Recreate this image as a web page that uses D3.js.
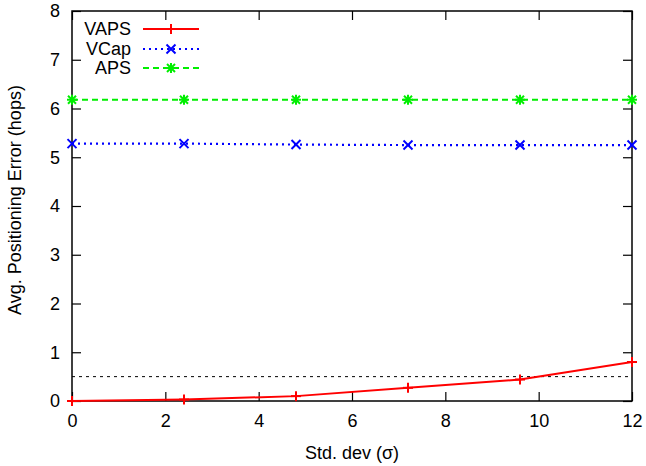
<!DOCTYPE html>
<html><head><meta charset="utf-8">
<script src="https://cdn.jsdelivr.net/npm/d3@7"></script>
<style>body{margin:0;background:#fff}text{font-family:"Liberation Sans",Arial,sans-serif}</style>
</head><body>
<svg id="c" width="646" height="466"></svg>
<script>
const xValues = [0, 2.4, 4.8, 7.2, 9.6, 12];
const vaps = [0.0, 0.03, 0.1, 0.27, 0.44, 0.8];
const vcap = [5.28, 5.28, 5.26, 5.25, 5.25, 5.25];
const aps = [6.18, 6.18, 6.18, 6.18, 6.18, 6.18];
const refLine = 0.5;
const xTicks = [0, 2, 4, 6, 8, 10, 12];
const yTicks = [0, 1, 2, 3, 4, 5, 6, 7, 8];
const seriesNames = ["VAPS", "VCap", "APS"];

const FS = 18;
const svg = d3.select("#c");
const L = 72, R = 632, T = 11, B = 401;
const x = d3.scaleLinear().domain([0, 12]).range([L, R]);
const y = d3.scaleLinear().domain([0, 8]).range([B, T]);

// axes with inward ticks
const tl = 9;
svg.append("g").attr("transform", `translate(0,${B})`)
  .call(d3.axisBottom(x).tickValues(xTicks).tickSizeInner(-tl).tickSizeOuter(0).tickPadding(13).tickFormat(d3.format("d")));
svg.append("g").attr("transform", `translate(0,${T})`)
  .call(d3.axisTop(x).tickValues(xTicks).tickSizeInner(-tl).tickSizeOuter(0).tickFormat(""));
svg.append("g").attr("transform", `translate(${L},0)`)
  .call(d3.axisLeft(y).tickValues(yTicks).tickSizeInner(-tl).tickSizeOuter(0).tickPadding(12).tickFormat(d3.format("d")));
svg.append("g").attr("transform", `translate(${R},0)`)
  .call(d3.axisRight(y).tickValues(yTicks).tickSizeInner(-tl).tickSizeOuter(0).tickFormat(""));
svg.selectAll(".domain").remove();
svg.selectAll(".tick line").attr("stroke", "#000").attr("stroke-width", 1.2);
svg.selectAll(".tick text").attr("font-size", FS).attr("fill", "#000").attr("font-family", "Liberation Sans, Arial, sans-serif");
svg.append("rect").attr("x", L).attr("y", T).attr("width", R - L).attr("height", B - T)
  .attr("fill", "none").attr("stroke", "#000").attr("stroke-width", 1.5);

// reference dashed line
svg.append("line").attr("x1", x(0)).attr("x2", x(12)).attr("y1", y(refLine)).attr("y2", y(refLine))
  .attr("stroke", "#000").attr("stroke-width", 1).attr("stroke-dasharray", "3,4");

const styles = [
  {data: vaps, color: "#ff0000", dash: null, width: 2, marker: "plus"},
  {data: vcap, color: "#0000ff", dash: "2,4", width: 2.2, marker: "cross"},
  {data: aps, color: "#00ee00", dash: "6,4", width: 2, marker: "star"}
];
function marker(g, cx, cy, type, color) {
  const s = 5;
  const p = [];
  if (type === "plus" || type === "star") { p.push([cx - s, cy, cx + s, cy], [cx, cy - s, cx, cy + s]); }
  if (type === "cross" || type === "star") { const k = type === "star" ? 4 : 4.5; p.push([cx - k, cy - k, cx + k, cy + k], [cx - k, cy + k, cx + k, cy - k]); }
  p.forEach(a => g.append("line").attr("x1", a[0]).attr("y1", a[1]).attr("x2", a[2]).attr("y2", a[3])
    .attr("stroke", color).attr("stroke-width", 2));
}
const line = d3.line().x((d, i) => x(xValues[i])).y(d => y(d));
styles.forEach(s => {
  svg.append("path").datum(s.data).attr("d", line).attr("fill", "none")
    .attr("stroke", s.color).attr("stroke-width", s.width).attr("stroke-dasharray", s.dash);
  const g = svg.append("g");
  s.data.forEach((v, i) => marker(g, x(xValues[i]), y(v), s.marker, s.color));
});

// legend
const ly = [29, 49, 68];
seriesNames.forEach((n, i) => {
  const s = styles[i];
  svg.append("text").attr("x", 131).attr("y", ly[i]).attr("dy", "0.35em").attr("text-anchor", "end")
    .attr("font-size", FS).text(n);
  svg.append("line").attr("x1", 143).attr("x2", 199).attr("y1", ly[i]).attr("y2", ly[i])
    .attr("stroke", s.color).attr("stroke-width", s.width).attr("stroke-dasharray", s.dash);
  marker(svg.append("g"), 171, ly[i], s.marker, s.color);
});

// axis titles
svg.append("text").attr("x", 352).attr("y", 459).attr("text-anchor", "middle")
  .attr("font-size", FS).text("Std. dev (σ)");
svg.append("text").attr("transform", `translate(21,200) rotate(-90)`).attr("text-anchor", "middle")
  .attr("font-size", FS).text("Avg. Positioning Error (hops)");
</script>
</body></html>
